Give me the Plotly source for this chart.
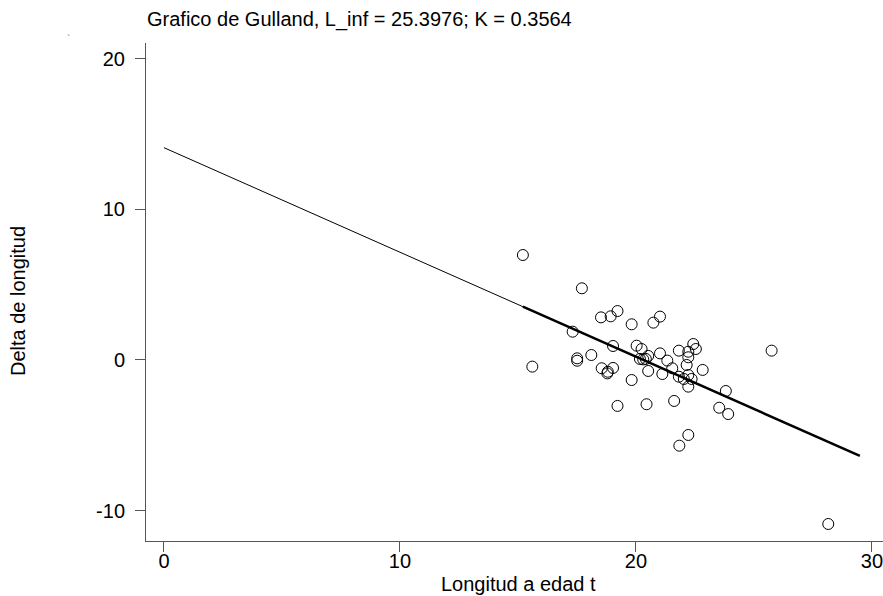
import plotly.graph_objects as go

# Observed points: length at age t vs. length increment
length_t = [15.21, 17.71, 18.52, 18.93, 19.22, 17.32, 19.03, 15.61, 17.51, 17.51,
            18.11, 18.55, 18.81, 18.79, 19.03, 19.22, 19.82, 20.74, 21.02, 20.03,
            20.24, 20.52, 20.31, 20.17, 20.42, 20.52, 19.82, 21.02, 21.12, 21.33,
            21.54, 21.82, 22.22, 22.43, 22.54, 22.22, 22.15, 21.82, 22.03, 22.22,
            22.36, 22.22, 22.83, 23.81, 20.45, 21.62, 23.53, 23.91, 22.22, 21.84,
            25.75, 28.15]
delta_len = [6.97, 4.76, 2.83, 2.90, 3.25, 1.88, 0.93, -0.44, 0.11, -0.05,
             0.33, -0.55, -0.78, -0.89, -0.53, -3.05, 2.37, 2.48, 2.88, 0.95,
             0.73, 0.27, 0.04, 0.07, 0.07, -0.73, -1.33, 0.44, -0.93, -0.04,
             -0.55, 0.62, 0.55, 1.06, 0.73, 0.18, -0.33, -1.11, -1.26, -1.00,
             -1.26, -1.77, -0.66, -2.06, -2.94, -2.72, -3.17, -3.59, -4.98, -5.69,
             0.62, -10.89]

# Fitted line (extrapolated part and data-range part)
fit_x_ext = [0, 15.21]
fit_y_ext = [14.1, 3.54]
fit_x_dat = [15.21, 29.49]
fit_y_dat = [3.54, -6.37]

x_ticks = [0, 10, 20, 30]
x_tick_labels = ["0", "10", "20", "30"]
y_ticks = [-10, 0, 10, 20]
y_tick_labels = ["-10", "0", "10", "20"]

title_text = "Grafico de Gulland, L_inf = 25.3976; K = 0.3564"
x_title = "Longitud a edad t"
y_title = "Delta de longitud"

W, H = 883, 596
ML, MR, MT, MB = 146, 0, 43, 55
PW, PH = W - ML - MR, H - MT - MB


def px_x(px):
    return (px - ML) / PW


def px_y(py):
    return (H - MB - py) / PH


fig = go.Figure()
fig.add_trace(go.Scatter(x=fit_x_ext, y=fit_y_ext, mode="lines",
                         line=dict(color="black", width=1), showlegend=False))
fig.add_trace(go.Scatter(x=fit_x_dat, y=fit_y_dat, mode="lines",
                         line=dict(color="black", width=2.5), showlegend=False))
fig.add_trace(go.Scatter(x=length_t, y=delta_len, mode="markers",
                         marker=dict(symbol="circle-open", size=11,
                                     color="black", line=dict(width=1)),
                         showlegend=False))

font = "Liberation Sans, Arial, sans-serif"
fig.update_layout(
    width=W, height=H,
    paper_bgcolor="white", plot_bgcolor="white",
    margin=dict(l=ML, r=MR, t=MT, b=MB),
    font=dict(family=font, size=20, color="black"),
    xaxis=dict(range=[-0.76, 30.47], tickvals=x_ticks, ticktext=x_tick_labels,
               ticks="outside", ticklen=10, tickcolor="#555", showline=True,
               linecolor="#555", linewidth=1, showgrid=False, zeroline=False,
               ticklabelstandoff=-8, ticklabeloverflow="allow", automargin=False),
    yaxis=dict(range=[-12.02, 21.05], tickvals=y_ticks, ticktext=y_tick_labels,
               ticks="outside", ticklen=10, tickcolor="#555", showline=True,
               linecolor="#555", linewidth=1, showgrid=False, zeroline=False,
               ticklabelstandoff=6, automargin=False),
    annotations=[
        dict(text=title_text, xref="paper", yref="paper", x=px_x(145),
             y=px_y(19), xanchor="left", yanchor="middle", showarrow=False,
             font=dict(size=20, family=font)),
        dict(text=x_title, xref="paper", yref="paper", x=px_x(518),
             y=px_y(584), xanchor="center", yanchor="middle", showarrow=False,
             font=dict(size=20, family=font)),
        dict(text=y_title, xref="paper", yref="paper", x=px_x(18),
             y=px_y(301), xanchor="center", yanchor="middle", textangle=-90,
             showarrow=False, font=dict(size=20, family=font)),
        dict(text="`", xref="paper", yref="paper", x=px_x(68), y=px_y(40),
             xanchor="center", yanchor="middle", showarrow=False,
             font=dict(size=10, color="#777")),
    ],
)

fig.write_html("out.html")
